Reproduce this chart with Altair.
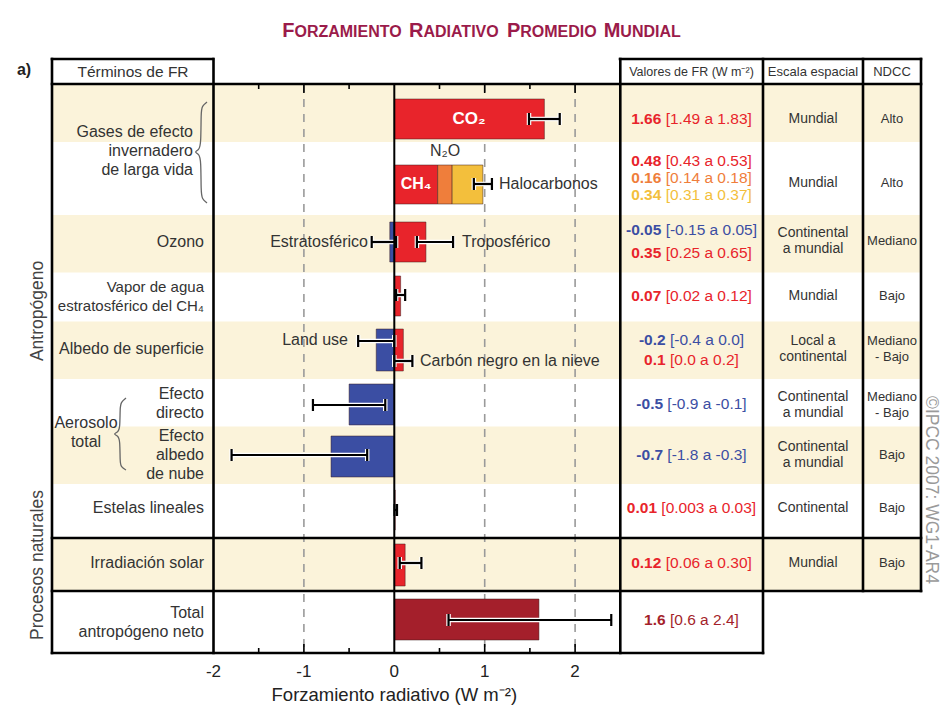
import altair as alt
import pandas as pd

# ============================ DATA ============================
# Bars: term, row of the table, start and end of each bar (W m-2), colour tone
BAR_TERMS = ["CO2", "CH4", "N2O", "Halocarbonos", "Ozono estratosférico", "Ozono troposférico",
             "Vapor de agua", "Land use", "Carbón negro en la nieve", "Efecto directo",
             "Efecto albedo de nube", "Estelas lineales", "Irradiación solar", "Total antropógeno neto"]
BAR_ROW = [0, 1, 1, 1, 2, 2, 3, 4, 4, 5, 6, 7, 8, 9]
BAR_START = [0, 0, 0.48, 0.64, -0.05, 0, 0, -0.2, 0, -0.5, -0.7, 0, 0, 0]
BAR_END = [1.66, 0.48, 0.64, 0.98, 0, 0.35, 0.07, 0, 0.10, 0, 0, 0.01, 0.12, 1.6]
BAR_TONE = ["red", "red", "orange", "yellow", "blue", "red", "red", "blue", "red",
            "blue", "blue", "red", "red", "dark"]

# Uncertainty ranges drawn as error bars
ERR_ROW = [0, 1, 2, 2, 3, 4, 4, 5, 6, 7, 8, 9]
ERR_LO = [1.49, 0.88, -0.25, 0.25, 0.02, -0.40, 0.00, -0.90, -1.80, 0.003, 0.06, 0.6]
ERR_HI = [1.83, 1.08, 0.02, 0.65, 0.12, 0.00, 0.20, -0.10, -0.30, 0.03, 0.30, 2.4]

# Column "Valores de FR"
VAL_MAIN = ["1.66", "0.48", "0.16", "0.34", "-0.05", "0.35", "0.07", "-0.2", "0.1",
            "-0.5", "-0.7", "0.01", "0.12", "1.6"]
VAL_RANGE = ["[1.49 a 1.83]", "[0.43 a 0.53]", "[0.14 a 0.18]", "[0.31 a 0.37]",
             "[-0.15 a 0.05]", "[0.25 a 0.65]", "[0.02 a 0.12]", "[-0.4 a 0.0]",
             "[0.0 a 0.2]", "[-0.9 a -0.1]", "[-1.8 a -0.3]", "[0.003 a 0.03]",
             "[0.06 a 0.30]", "[0.6 a 2.4]"]
VAL_TONE = ["red", "red", "orange", "yellow", "blue", "red", "red", "blue", "red",
            "blue", "blue", "red", "red", "dark"]

# Column "Escala espacial" and "NDCC" (rows 0..8)
SCALE_TEXT = ["Mundial", "Mundial", "Continental\na mundial", "Mundial", "Local a\ncontinental",
              "Continental\na mundial", "Continental\na mundial", "Continental", "Mundial"]
NDCC_TEXT = ["Alto", "Alto", "Mediano", "Bajo", "Mediano\n- Bajo", "Mediano\n- Bajo",
             "Bajo", "Bajo", "Bajo"]

# Row labels
ROW_LABELS = ["Gases de efecto\ninvernadero\nde larga vida", "Ozono",
              "Vapor de agua\nestratosférico del CH₄", "Albedo de superficie",
              "Efecto\ndirecto", "Efecto\nalbedo\nde nube", "Estelas lineales",
              "Irradiación solar", "Total\nantropógeno neto"]

BAR_NOTES = ["CO₂", "CH₄", "N₂O", "Halocarbonos", "Estratosférico", "Troposférico",
             "Land use", "Carbón negro en la nieve"]

TICK_LABELS = [-2, -1, 0, 1, 2]
GRID_VALUES = [-1, 1, 2]
MINOR_TICKS = [-1.5, -0.5, 0.5, 1.5]

TITLE_WORDS = ["FORZAMIENTO", "RADIATIVO", "PROMEDIO", "MUNDIAL"]
X_TITLE = "Forzamiento radiativo (W m⁻²)"

# ============================ STYLE / LAYOUT ============================
FONT = "Liberation Sans"
INK = "#333333"
TONE_HEX = {"red": "#E8242B", "orange": "#EF7E3B", "yellow": "#F3BF3C",
            "blue": "#3B4EA3", "dark": "#A41F2B"}
BEIGE = "#FBF3DA"
MAROON = "#9B1B4A"

PX0, PPU = 394.3, 90.4          # page x of 0 W m-2 and pixels per unit
LEFT, RIGHT, TOP, BOTTOM = 52, 921, 59, 653
W, H = RIGHT - LEFT, BOTTOM - TOP


def xv(px):
    return (px - PX0) / PPU


ROW_EDGES = [84, 142, 215, 272.5, 321.5, 379, 426.5, 484, 538, 591, 653]
BAR_TOP = [99, 165, 222, 276, 329, 384, 436, 490, 544, 599]
BAR_BOT = [139, 204, 262, 316, 371, 425, 477, 530, 586, 640]
ROW_MID = [119, 183, 241, 296, 349, 405, 455, 508, 563, 620]
ERR_Y = [119, 184, 242, 242, 295, 341, 361, 405, 455, 510, 563, 620]
VAL_Y = [119, 161, 178, 195, 230, 253, 296, 340, 360, 404, 455, 508, 563, 620]
LABEL_Y = [151, 242, 296, 349, 403, 455, 508, 563, 622]
NOTE_POS = [(469, 119, "center"), (416, 184, "center"), (445, 151, "center"),
            (499, 184, "left"), (368, 242, "right"), (462, 242, "left"),
            (348, 340, "right"), (420, 361, "left")]

XS = alt.Scale(domain=[xv(LEFT), xv(RIGHT)], nice=False, zero=False)
YS = alt.Scale(domain=[TOP, BOTTOM], reverse=True, nice=False, zero=False)


def X(f):
    return alt.X(f, type="quantitative", scale=XS, axis=None)


def Y(f):
    return alt.Y(f, type="quantitative", scale=YS, axis=None)


def first_line_y(center, text, lh):
    # Vega puts the first line of a multi-line text at y: shift so the block is centred
    n = text.count("\n") + 1
    return center - (n - 1) * lh / 2


def text_layer(df, **mk):
    base = dict(font=FONT, baseline="middle")
    base.update(mk)
    return alt.Chart(df).mark_text(**base).encode(
        x=X("x"), y=Y("y"), text="text:N",
        color=alt.Color("col:N", scale=None),
        size=alt.Size("fs:Q", scale=None))


layers = []

# ---- beige row bands
bands = pd.DataFrame({
    "x": [xv(LEFT)] * 5, "x2": [xv(RIGHT)] * 5,
    "y": [ROW_EDGES[i] for i in (0, 2, 4, 6, 8)],
    "y2": [ROW_EDGES[i + 1] for i in (0, 2, 4, 6, 8)]})
layers.append(alt.Chart(bands).mark_rect(color=BEIGE).encode(
    x=X("x"), x2="x2", y=Y("y"), y2="y2"))

# ---- dashed reference lines
grid = pd.DataFrame({"x": GRID_VALUES, "y": [ROW_EDGES[0]] * 3, "y2": [BOTTOM] * 3})
layers.append(alt.Chart(grid).mark_rule(color="#9a9a9a", strokeWidth=1.6, strokeDash=[8, 7]).encode(
    x=X("x"), y=Y("y"), y2="y2"))

# ---- bars
bars = pd.DataFrame({
    "term": BAR_TERMS, "x": BAR_START, "x2": BAR_END,
    "y": [BAR_TOP[r] for r in BAR_ROW], "y2": [BAR_BOT[r] for r in BAR_ROW],
    "col": [TONE_HEX[t] for t in BAR_TONE]})
layers.append(alt.Chart(bars).mark_rect(stroke="#3a1a1a", strokeWidth=0.7, strokeOpacity=0.7).encode(
    x=X("x"), x2="x2", y=Y("y"), y2="y2", color=alt.Color("col:N", scale=None)))

# ---- error bars (white halo + black)
err = pd.DataFrame({"lo": ERR_LO, "hi": ERR_HI, "y": ERR_Y})
caps = pd.DataFrame({"x": ERR_LO + ERR_HI,
                     "y": [v - 6 for v in ERR_Y] * 2, "y2": [v + 6 for v in ERR_Y] * 2})
for colr, sw in (("white", 4.5), ("black", 2.2)):
    layers.append(alt.Chart(err).mark_rule(color=colr, strokeWidth=sw).encode(
        x=X("lo"), x2="hi", y=Y("y")))
    layers.append(alt.Chart(caps).mark_rule(color=colr, strokeWidth=sw).encode(
        x=X("x"), y=Y("y"), y2="y2"))

# ---- zero line and ticks
zero = pd.DataFrame({"x": [0], "y": [ROW_EDGES[0]], "y2": [BOTTOM]})
layers.append(alt.Chart(zero).mark_rule(color="black", strokeWidth=2).encode(
    x=X("x"), y=Y("y"), y2="y2"))
ticks = pd.DataFrame({
    "x": GRID_VALUES * 2 + MINOR_TICKS * 2,
    "y": [BOTTOM - 9] * 3 + [ROW_EDGES[0]] * 3 + [BOTTOM - 5] * 4 + [ROW_EDGES[0]] * 4,
    "y2": [BOTTOM] * 3 + [ROW_EDGES[0] + 9] * 3 + [BOTTOM] * 4 + [ROW_EDGES[0] + 5] * 4})
layers.append(alt.Chart(ticks).mark_rule(color="black", strokeWidth=1.6).encode(
    x=X("x"), y=Y("y"), y2="y2"))

# ---- table borders
hl = pd.DataFrame({
    "x": [xv(LEFT), xv(620), xv(LEFT), xv(LEFT), xv(LEFT), xv(LEFT)],
    "x2": [xv(213), xv(RIGHT), xv(RIGHT), xv(RIGHT), xv(RIGHT), xv(763)],
    "y": [TOP, TOP, ROW_EDGES[0], ROW_EDGES[8], ROW_EDGES[9], BOTTOM]})
layers.append(alt.Chart(hl).mark_rule(color="black", strokeWidth=2.6, strokeCap="square").encode(
    x=X("x"), x2="x2", y=Y("y")))
vl = pd.DataFrame({
    "x": [xv(LEFT), -2, 2.5, xv(763), xv(863), xv(RIGHT)],
    "y": [TOP] * 6,
    "y2": [BOTTOM, BOTTOM, BOTTOM, BOTTOM, ROW_EDGES[9], ROW_EDGES[9]]})
layers.append(alt.Chart(vl).mark_rule(color="black", strokeWidth=2.6, strokeCap="square").encode(
    x=X("x"), y=Y("y"), y2="y2"))

# ---- braces
BRACE_GHG_PX = [(207, 102), (202, 106), (201, 112), (201, 144), (199, 150), (194, 152),
                (199, 154), (201, 160), (201, 192), (202, 199), (207, 203)]
BRACE_AER_PX = [(126, 398), (121, 402), (120, 408), (120, 428), (118, 432), (113, 434),
                (118, 436), (120, 440), (120, 462), (121, 467), (126, 470)]
br = pd.DataFrame(
    [{"b": "g", "i": i, "x": xv(px), "y": py} for i, (px, py) in enumerate(BRACE_GHG_PX)] +
    [{"b": "a", "i": i, "x": xv(px), "y": py} for i, (px, py) in enumerate(BRACE_AER_PX)])
layers.append(alt.Chart(br).mark_line(interpolate="basis", color="#666666", strokeWidth=1.3).encode(
    x=X("x"), y=Y("y"), detail="b:N", order="i:Q"))

# ---- title (small caps)
AB = {"A": .722, "C": .722, "D": .722, "E": .667, "F": .611, "I": .278, "L": .611, "M": .833,
      "N": .722, "O": .778, "P": .667, "R": .722, "T": .611, "U": .722, "V": .667, "Z": .611}
BIG, SMALL, GAP = 20, 16, 7
wsum = sum(AB[w[0]] * BIG + sum(AB[c] for c in w[1:]) * SMALL for w in TITLE_WORDS) + GAP * 3
cur = 481.5 - wsum / 2
trows = []
for w in TITLE_WORDS:
    trows.append({"x": xv(cur), "y": 37, "text": w[0], "fs": BIG, "col": MAROON})
    cur += AB[w[0]] * BIG
    trows.append({"x": xv(cur), "y": 37, "text": w[1:], "fs": SMALL, "col": MAROON})
    cur += sum(AB[c] for c in w[1:]) * SMALL + GAP
layers.append(text_layer(pd.DataFrame(trows), align="left", baseline="alphabetic", fontWeight="bold"))

# ---- "a)" and header texts
layers.append(text_layer(pd.DataFrame([{"x": xv(24), "y": 70, "text": "a)", "fs": 16, "col": "#222"}]),
                         fontWeight="bold"))
hdr = pd.DataFrame({"x": [xv(133), xv(691.5), xv(813), xv(892)], "y": [72] * 4,
                    "text": ["Términos de FR", "Valores de FR (W m⁻²)", "Escala espacial", "NDCC"],
                    "fs": [15.5, 12.5, 13, 13], "col": [INK] * 4})
layers.append(text_layer(hdr, align="center"))

# ---- side labels
side = pd.DataFrame({"x": [xv(38), xv(38)], "y": [311, 565],
                     "text": ["Antropógeno", "Procesos naturales"], "fs": [17.5, 17.5],
                     "col": ["#444"] * 2})
layers.append(text_layer(side, align="center", angle=270))
copy = pd.DataFrame({"x": [xv(931)], "y": [490], "text": ["©IPCC 2007: WG1-AR4"],
                     "fs": [17.5], "col": ["#9a9a9a"]})
layers.append(text_layer(copy, align="center", angle=90))

# ---- row labels
LH_LAB = 19
lab = pd.DataFrame({"x": [xv(193)] + [xv(204)] * 8,
                    "y": [first_line_y(c, t, LH_LAB) for c, t in zip(LABEL_Y, ROW_LABELS)],
                    "text": ROW_LABELS,
                    "fs": [16, 16, 15, 16, 16, 16, 16, 16, 16], "col": [INK] * 9})
layers.append(text_layer(lab, align="right", lineBreak="\n", lineHeight=LH_LAB))
aer = pd.DataFrame({"x": [xv(86)], "y": [first_line_y(432, "a\nb", LH_LAB)],
                    "text": ["Aerosolo\ntotal"], "fs": [16], "col": [INK]})
layers.append(text_layer(aer, align="center", lineBreak="\n", lineHeight=LH_LAB))

# ---- bar annotations
for al in ("left", "center", "right"):
    rows = []
    for (px, py, a), t in zip(NOTE_POS, BAR_NOTES):
        if a != al:
            continue
        white = t in ("CO₂", "CH₄")
        rows.append({"x": xv(px), "y": py, "text": t, "fs": 17 if t == "CO₂" else 16,
                     "col": "white" if white else INK, "w": white})
    d = pd.DataFrame(rows)
    if len(d[d.w]):
        layers.append(text_layer(d[d.w].drop(columns="w"), align=al, fontWeight="bold"))
    if len(d[~d.w]):
        layers.append(text_layer(d[~d.w].drop(columns="w"), align=al))

# ---- x tick labels and axis title
tl = pd.DataFrame({"x": TICK_LABELS, "y": [672] * 5,
                   "text": [("-" if v < 0 else "") + str(abs(v)) for v in TICK_LABELS],
                   "fs": [17] * 5, "col": ["#222"] * 5})
layers.append(text_layer(tl, align="center"))
layers.append(text_layer(pd.DataFrame([{"x": 0, "y": 695, "text": X_TITLE, "fs": 18.5, "col": "#222"}]),
                         align="center"))

# ---- values column (bold value + range, centred together)
CW = {".": .278, " ": .278, "[": .278, "]": .278, "a": .556, "-": .333}
VFS, VCX = 15.5, 691.5


def tw(s):
    return sum(CW.get(c, .556) for c in s) * VFS


mains, rngs = [], []
for m, r, t, y in zip(VAL_MAIN, VAL_RANGE, VAL_TONE, VAL_Y):
    start = VCX - (tw(m) + tw(" ") + tw(r)) / 2
    mains.append({"x": xv(start), "y": y, "text": m, "fs": VFS, "col": TONE_HEX[t]})
    rngs.append({"x": xv(start + tw(m) + tw(" ")), "y": y, "text": r, "fs": VFS, "col": TONE_HEX[t]})
layers.append(text_layer(pd.DataFrame(mains), align="left", fontWeight="bold"))
layers.append(text_layer(pd.DataFrame(rngs), align="left"))

# ---- spatial scale and NDCC columns
LH_TAB = 16.5
sc = pd.DataFrame({"x": [xv(813)] * 9,
                   "y": [first_line_y(c, t, LH_TAB) for c, t in zip(ROW_MID, SCALE_TEXT)],
                   "text": SCALE_TEXT, "fs": [14] * 9, "col": [INK] * 9})
layers.append(text_layer(sc, align="center", lineBreak="\n", lineHeight=LH_TAB))
nd = pd.DataFrame({"x": [xv(892)] * 9,
                   "y": [first_line_y(c, t, LH_TAB) for c, t in zip(ROW_MID, NDCC_TEXT)],
                   "text": NDCC_TEXT, "fs": [13] * 9, "col": [INK] * 9})
layers.append(text_layer(nd, align="center", lineBreak="\n", lineHeight=LH_TAB))

chart = alt.layer(*layers).properties(
    width=W, height=H,
    padding={"left": LEFT - 8, "top": TOP - 8, "right": 21, "bottom": 56},
    autosize=alt.AutoSizeParams(type="none"),
    background="white",
).configure_view(stroke=None)

chart.save("out.html", embed_options={"renderer": "svg", "actions": False})
